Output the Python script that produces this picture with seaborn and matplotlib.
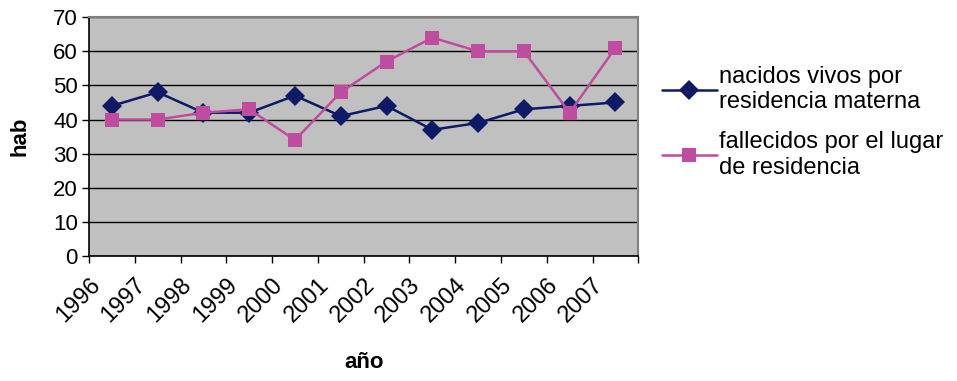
import numpy as np
import pandas as pd
import matplotlib
matplotlib.use("Agg")
import matplotlib.pyplot as plt
import seaborn as sns

years = ["1996", "1997", "1998", "1999", "2000", "2001", "2002",
         "2003", "2004", "2005", "2006", "2007"]
nacidos = [44, 48, 42, 42, 47, 41, 44, 37, 39, 43, 44, 45]
fallecidos = [40, 40, 42, 43, 34, 48, 57, 64, 60, 60, 42, 61]
series_names = ["nacidos vivos por\nresidencia materna",
                "fallecidos por el lugar\nde residencia"]
colors = ["#0d1a66", "#c04ca0"]

sns.set_style("white")
plt.rcParams['font.family'] = ['Liberation Sans', 'DejaVu Sans']
plt.rcParams['text.color'] = "black"
plt.rcParams['axes.labelcolor'] = "black"
plt.rcParams['xtick.color'] = "black"
plt.rcParams['ytick.color'] = "black"

pos = np.arange(len(years))
df = pd.DataFrame({
    "pos": np.concatenate([pos, pos]),
    "valor": nacidos + fallecidos,
    "serie": [series_names[0]] * len(years) + [series_names[1]] * len(years),
})

fig = plt.figure(figsize=(9.57, 3.81), dpi=100)
ax = fig.add_axes([0.093, 0.328, 0.574, 0.627])
ax.set_facecolor("#c0c0c0")

sns.lineplot(data=df, x="pos", y="valor", hue="serie", style="serie",
             markers={series_names[0]: "D", series_names[1]: "s"},
             dashes=False, palette=colors, markersize=10, linewidth=1.8,
             markeredgewidth=0, ax=ax, zorder=3)

ax.set_xlim(-0.5, len(years) - 0.5)
ax.set_ylim(0, 70)
ax.set_yticks(range(0, 71, 10))
ax.yaxis.grid(True, color="black", linewidth=1)
ax.set_axisbelow(True)

ax.set_xticks(np.arange(-0.5, len(years) + 0.5, 1))
ax.set_xticklabels(years + [""], rotation=45, ha="right",
                   rotation_mode="anchor", fontsize=17)
ax.tick_params(axis="x", length=5, width=1, color="black", direction="out",
               bottom=True, pad=8)
ax.tick_params(axis="y", length=5, width=1, color="black", direction="out",
               left=True, labelsize=16, pad=3)

for side in ["left", "bottom"]:
    ax.spines[side].set_color("black")
    ax.spines[side].set_linewidth(1.2)
for side in ["top", "right"]:
    ax.spines[side].set_color("#808080")
    ax.spines[side].set_linewidth(1.5)

ax.set_xlabel("año", fontsize=16, fontweight="bold", labelpad=18)
ax.set_ylabel("hab", fontsize=16, fontweight="bold", labelpad=16)

leg = ax.legend(loc="center left", bbox_to_anchor=(1.005, 0.56), frameon=False,
                fontsize=17, handlelength=2.3, handletextpad=0.1,
                labelspacing=0.75)

fig.savefig("out.png", dpi=100)
